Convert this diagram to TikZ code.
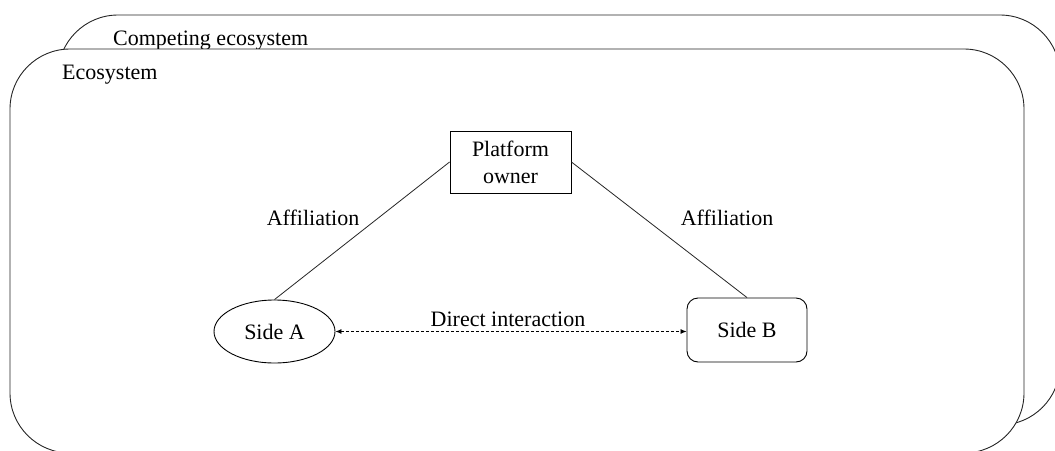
\documentclass[tikz,border=0pt]{standalone}
\usepackage{fontspec}
\setmainfont{Liberation Serif}
\usetikzlibrary{shapes.geometric,arrows.meta}
\begin{document}
\begin{tikzpicture}[x=1pt,y=-1pt,
  every node/.style={font=\fontsize{22}{27}\selectfont, inner sep=0pt},
  frame/.style={draw=black!85, line width=0.9pt, rounded corners=60pt},
  ownerbox/.style={draw, line width=0.9pt, minimum width=121pt, minimum height=62pt, align=center},
  sidea/.style={draw, ellipse, line width=0.9pt, minimum width=121pt, minimum height=63pt},
  sideb/.style={draw, rounded corners=11pt, line width=0.9pt, minimum width=120pt, minimum height=64pt},
  link/.style={line width=0.8pt, draw=black!85},
  interact/.style={line width=0.8pt, dashed, dash pattern=on 3pt off 2pt, {Latex[length=6pt,width=5pt]}-{Latex[length=6pt,width=5pt]}}
]
\useasboundingbox (0,0) rectangle (1055,450);
\clip (0,0) rectangle (1055,450);

% competing ecosystem behind, ecosystem in front
\draw[frame] (58,15) rectangle (1060,425);
\node[anchor=base west] (compet) at (113,45) {Competing ecosystem};
\draw[frame, fill=white] (10,49) rectangle (1024,453);
\node[anchor=base west] (eco) at (62,79) {Ecosystem};

% actors
\node[ownerbox] (owner) at (510.5,162) {Platform\\owner};
\node[sidea] (A) at (274.5,331.5) {Side A};
\node[sideb] (B) at (747,330) {Side B};

% affiliation links
\draw[link] (owner.west) -- (A.north);
\draw[link] (owner.east) -- (B.north);
\node[anchor=base] (affA) at (313,225) {Affiliation};
\node[anchor=base] (affB) at (727,225) {Affiliation};

% direct interaction
\draw[interact] (A.east) -- (B.west |- A.east);
\node[anchor=base] (direct) at (508,326) {Direct interaction};
\end{tikzpicture}
\end{document}
